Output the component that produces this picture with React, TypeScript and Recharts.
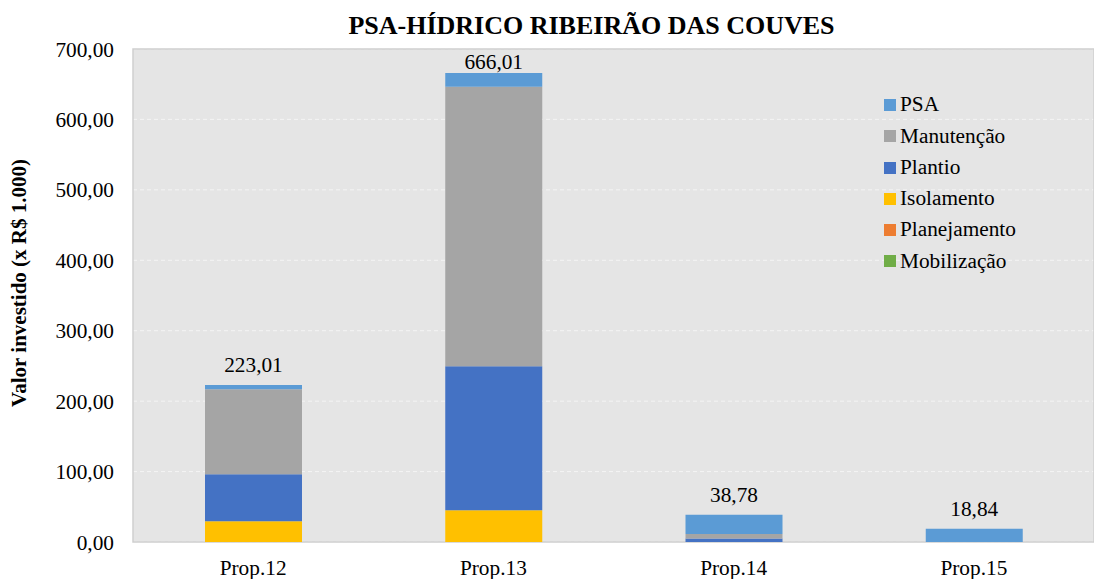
import { BarChart, Bar, XAxis, YAxis, CartesianGrid, LabelList, ReferenceArea } from "recharts";

const categories = ["Prop.12", "Prop.13", "Prop.14", "Prop.15"];
const mobilizacao = [0, 0, 0, 0];
const planejamento = [0, 0, 0, 0];
const isolamento = [29.3, 45.0, 0, 0];
const plantio = [66.9, 204.6, 4.9, 0];
const manutencao = [120.7, 396.7, 6.4, 0];
const psa = [6.11, 19.71, 27.48, 18.84];
const totals = [223.01, 666.01, 38.78, 18.84];
const yTicks = [0, 100, 200, 300, 400, 500, 600, 700];

const series = [
  { key: "mobilizacao", name: "Mobilização", color: "#70ad47" },
  { key: "planejamento", name: "Planejamento", color: "#ed7d31" },
  { key: "isolamento", name: "Isolamento", color: "#ffc000" },
  { key: "plantio", name: "Plantio", color: "#4472c4" },
  { key: "manutencao", name: "Manutenção", color: "#a5a5a5" },
  { key: "psa", name: "PSA", color: "#5b9bd5" },
];

const data = categories.map((c, i) => ({
  name: c,
  mobilizacao: mobilizacao[i],
  planejamento: planejamento[i],
  isolamento: isolamento[i],
  plantio: plantio[i],
  manutencao: manutencao[i],
  psa: psa[i],
  total: totals[i],
}));

const fmt = (v: number) => v.toFixed(2).replace(".", ",");
const FONT = "Liberation Serif";

// total label above the stack, kept inside the plot area like Excel does
const TotalLabel = (props: any) => {
  const { x, y, width, value } = props;
  const baseline = Math.max(Number(y) - 12.5, 69);
  return (
    <text x={Number(x) + Number(width) / 2} y={baseline} textAnchor="middle" fontFamily={FONT} fontSize={21.3} fill="#000">
      {fmt(Number(value))}
    </text>
  );
};

const LegendBox = () => (
  <div style={{ position: "absolute", left: 884, top: 89.3, fontFamily: FONT, fontSize: 21.3, color: "#000" }}>
    {[...series].reverse().map((s) => (
      <div key={s.key} style={{ height: 31.3, lineHeight: "31.3px", display: "flex", alignItems: "center" }}>
        <span style={{ width: 12, height: 12, background: s.color, display: "inline-block", marginRight: 4 }} />
        <span>{s.name}</span>
      </div>
    ))}
  </div>
);

export default function App() {
  return (
    <div style={{ position: "absolute", left: 0, top: 0, width: 1094, height: 579, background: "#fff", fontFamily: FONT }}>
      <BarChart width={1094} height={579} data={data} margin={{ top: 49, right: 0, bottom: 7, left: 0 }} barSize={97}>
        <CartesianGrid vertical={false} fill="#e5e5e5" stroke="#f4f4f4" strokeDasharray="4 3" />
        <XAxis
          dataKey="name"
          height={30}
          axisLine={false}
          tickLine={false}
          tickSize={0}
          tickMargin={18}
          tick={{ fontFamily: FONT, fontSize: 21.3, fill: "#000" }}
        />
        <YAxis
          width={133}
          domain={[0, 700]}
          ticks={yTicks}
          axisLine={false}
          tickLine={false}
          tickSize={0}
          tickMargin={19}
          tickFormatter={fmt}
          tick={{ fontFamily: FONT, fontSize: 21.3, fill: "#000" }}
        />
        <ReferenceArea y1={0} y2={700} fill="none" stroke="#cfcfcf" strokeWidth={1.5} ifOverflow="visible" />
        {series.map((s) => (
          <Bar key={s.key} dataKey={s.key} name={s.name} stackId="a" fill={s.color} isAnimationActive={false}>
            {s.key === "psa" && <LabelList dataKey="total" content={TotalLabel} />}
          </Bar>
        ))}
      </BarChart>
      <LegendBox />
      <svg width={1094} height={579} style={{ position: "absolute", left: 0, top: 0, pointerEvents: "none" }}>
        <text x={591.5} y={34} textAnchor="middle" fontFamily={FONT} fontSize={26} fontWeight="bold" fill="#000">
          PSA-HÍDRICO RIBEIRÃO DAS COUVES
        </text>
        <text
          x={26}
          y={283}
          transform="rotate(-90 26 283)"
          textAnchor="middle"
          fontFamily={FONT}
          fontSize={21}
          fontWeight="bold"
          fill="#000"
        >
          Valor investido (x R$ 1.000)
        </text>
      </svg>
    </div>
  );
}
